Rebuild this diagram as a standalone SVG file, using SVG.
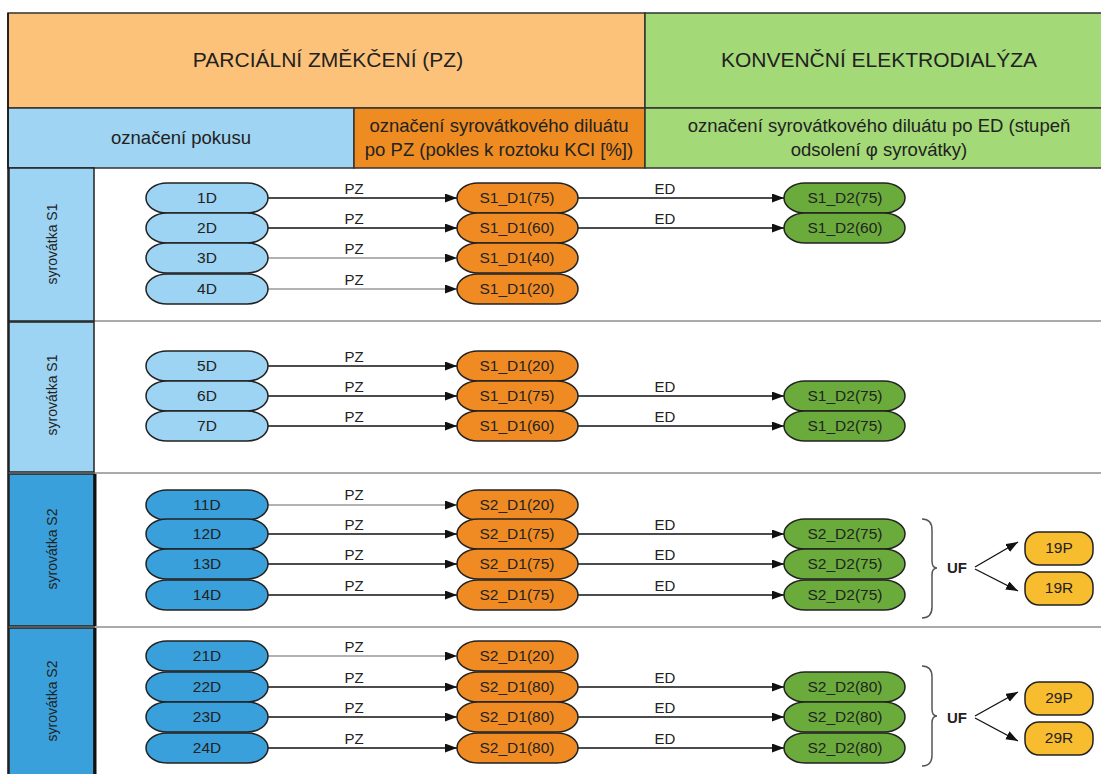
<svg xmlns="http://www.w3.org/2000/svg" width="1101" height="774" viewBox="0 0 1101 774">
<style>
text{font-family:"Liberation Sans",Arial,sans-serif;fill:#222}
.h1{font-size:21px;text-anchor:middle}
.h2{font-size:18.5px;text-anchor:middle}
.nt{font-size:15.5px;text-anchor:middle}
.lb{font-size:15px;text-anchor:middle}
.sl{font-size:14px;text-anchor:middle}
.uf{font-size:15px;font-weight:bold;text-anchor:middle}
.bl{fill:#9dd3f3;stroke:#222;stroke-width:1.5}
.bd{fill:#3aa0db;stroke:#222;stroke-width:1.5}
.or{fill:#ef8b22;stroke:#222;stroke-width:1.5}
.gr{fill:#6aab3b;stroke:#222;stroke-width:1.5}
.ye{fill:#f8bc2f;stroke:#222;stroke-width:1.5}
.ln{stroke:#111;stroke-width:1.3;fill:none}
.lg{stroke:#666;stroke-width:1.1;fill:none}
.br{stroke:#555;stroke-width:1.5;fill:none}
.sep{stroke:#aaa;stroke-width:2}
</style>
<defs>
<marker id="ah" markerUnits="userSpaceOnUse" markerWidth="13" markerHeight="10" refX="12" refY="4.5" orient="auto">
<path d="M0,0 L12,4.5 L0,9 z" fill="#111"/>
</marker>
</defs>
<rect width="1101" height="774" fill="#fff"/>

<g id="header">
<rect x="8" y="13" width="637" height="95" fill="#fdc27a" stroke="#333" stroke-width="1.5"/>
<rect x="645" y="13" width="460" height="95" fill="#a3d977" stroke="#333" stroke-width="1.5"/>
<rect x="8" y="108" width="346" height="60" fill="#9fd4f3" stroke="#333" stroke-width="1.5"/>
<rect x="354" y="108" width="291" height="60" fill="#ee8c22" stroke="#333" stroke-width="1.5"/>
<rect x="645" y="108" width="460" height="60" fill="#a3d977" stroke="#333" stroke-width="1.5"/>
<text class="h1" x="328" y="67">PARCIÁLNÍ ZMĚKČENÍ (PZ)</text>
<text class="h1" x="879" y="67">KONVENČNÍ ELEKTRODIALÝZA</text>
<text class="h2" x="181" y="144">označení pokusu</text>
<text class="h2" x="499" y="132">označení syrovátkového diluátu</text>
<text class="h2" x="499" y="156">po PZ (pokles k roztoku KCI [%])</text>
<text class="h2" x="879" y="132">označení syrovátkového diluátu po ED (stupeň</text>
<text class="h2" x="879" y="156">odsolení φ syrovátky)</text>
</g>

<g id="sections">
<line class="sep" x1="94" y1="321" x2="1101" y2="321"/>
<line class="sep" x1="94" y1="473" x2="1101" y2="473"/>
<line class="sep" x1="94" y1="627" x2="1101" y2="627"/>
<g id="sec1"><rect x="9" y="168" width="85" height="153" fill="#9dd3f3" stroke="#222" stroke-width="1.5"/>
<text class="sl" transform="translate(57,244) rotate(-90)">syrovátka S1</text></g>
<g id="sec2"><rect x="9" y="322" width="85" height="150" fill="#9dd3f3" stroke="#222" stroke-width="1.5"/>
<text class="sl" transform="translate(57,395) rotate(-90)">syrovátka S1</text></g>
<g id="sec3"><rect x="9" y="474" width="85" height="152" fill="#3aa0db" stroke="#222" stroke-width="1.5"/>
<line x1="95" y1="474" x2="95" y2="626" stroke="#111" stroke-width="3"/>
<text class="sl" transform="translate(57,549) rotate(-90)">syrovátka S2</text></g>
<g id="sec4"><rect x="9" y="628" width="85" height="150" fill="#3aa0db" stroke="#222" stroke-width="1.5"/>
<line x1="95" y1="628" x2="95" y2="774" stroke="#111" stroke-width="3"/>
<text class="sl" transform="translate(57,701) rotate(-90)">syrovátka S2</text></g>
<line x1="8" y1="13" x2="8" y2="774" stroke="#111" stroke-width="1.5"/>
</g>

<g id="connectors">
<line class="ln" x1="268" y1="198" x2="457" y2="198" marker-end="url(#ah)"/>
<line class="ln" x1="268" y1="228" x2="457" y2="228" marker-end="url(#ah)"/>
<line class="lg" x1="268" y1="258" x2="457" y2="258" marker-end="url(#ah)"/>
<line class="lg" x1="268" y1="289" x2="457" y2="289" marker-end="url(#ah)"/>
<line class="ln" x1="578" y1="198" x2="784" y2="198" marker-end="url(#ah)"/>
<line class="ln" x1="578" y1="228" x2="784" y2="228" marker-end="url(#ah)"/>

<line class="ln" x1="268" y1="366" x2="457" y2="366" marker-end="url(#ah)"/>
<line class="ln" x1="268" y1="396" x2="457" y2="396" marker-end="url(#ah)"/>
<line class="ln" x1="268" y1="426" x2="457" y2="426" marker-end="url(#ah)"/>
<line class="ln" x1="578" y1="396" x2="784" y2="396" marker-end="url(#ah)"/>
<line class="ln" x1="578" y1="426" x2="784" y2="426" marker-end="url(#ah)"/>

<line class="lg" x1="268" y1="505" x2="457" y2="505" marker-end="url(#ah)"/>
<line class="ln" x1="268" y1="534" x2="457" y2="534" marker-end="url(#ah)"/>
<line class="ln" x1="268" y1="564" x2="457" y2="564" marker-end="url(#ah)"/>
<line class="ln" x1="268" y1="595" x2="457" y2="595" marker-end="url(#ah)"/>
<line class="ln" x1="578" y1="534" x2="784" y2="534" marker-end="url(#ah)"/>
<line class="ln" x1="578" y1="564" x2="784" y2="564" marker-end="url(#ah)"/>
<line class="ln" x1="578" y1="595" x2="784" y2="595" marker-end="url(#ah)"/>

<line class="lg" x1="268" y1="656" x2="457" y2="656" marker-end="url(#ah)"/>
<line class="ln" x1="268" y1="687" x2="457" y2="687" marker-end="url(#ah)"/>
<line class="ln" x1="268" y1="717" x2="457" y2="717" marker-end="url(#ah)"/>
<line class="ln" x1="268" y1="748" x2="457" y2="748" marker-end="url(#ah)"/>
<line class="ln" x1="578" y1="687" x2="784" y2="687" marker-end="url(#ah)"/>
<line class="ln" x1="578" y1="717" x2="784" y2="717" marker-end="url(#ah)"/>
<line class="ln" x1="578" y1="748" x2="784" y2="748" marker-end="url(#ah)"/>

<line class="ln" x1="975" y1="567" x2="1018" y2="542" marker-end="url(#ah)"/>
<line class="ln" x1="975" y1="569" x2="1018" y2="591" marker-end="url(#ah)"/>
<line class="ln" x1="975" y1="716" x2="1018" y2="692" marker-end="url(#ah)"/>
<line class="ln" x1="975" y1="718" x2="1018" y2="741" marker-end="url(#ah)"/>

<g id="braces">
<path class="br" d="M922,519 Q932,519 932,530 L932,561 Q932,568 937,568 Q932,568 932,575 L932,607 Q932,618 922,618"/>
<path class="br" d="M922,666 Q932,666 932,677 L932,709 Q932,716 937,716 Q932,716 932,723 L932,755 Q932,766 922,766"/>
</g>

<g id="labels">
<text class="lb" x="354" y="194">PZ</text>
<text class="lb" x="354" y="224">PZ</text>
<text class="lb" x="354" y="254">PZ</text>
<text class="lb" x="354" y="285">PZ</text>
<text class="lb" x="665" y="194">ED</text>
<text class="lb" x="665" y="224">ED</text>
<text class="lb" x="354" y="362">PZ</text>
<text class="lb" x="354" y="392">PZ</text>
<text class="lb" x="354" y="422">PZ</text>
<text class="lb" x="665" y="392">ED</text>
<text class="lb" x="665" y="422">ED</text>
<text class="lb" x="354" y="500">PZ</text>
<text class="lb" x="354" y="530">PZ</text>
<text class="lb" x="354" y="560">PZ</text>
<text class="lb" x="354" y="591">PZ</text>
<text class="lb" x="665" y="530">ED</text>
<text class="lb" x="665" y="560">ED</text>
<text class="lb" x="665" y="591">ED</text>
<text class="lb" x="354" y="652">PZ</text>
<text class="lb" x="354" y="683">PZ</text>
<text class="lb" x="354" y="713">PZ</text>
<text class="lb" x="354" y="744">PZ</text>
<text class="lb" x="665" y="683">ED</text>
<text class="lb" x="665" y="713">ED</text>
<text class="lb" x="665" y="744">ED</text>
<text class="uf" x="957" y="573">UF</text>
<text class="uf" x="957" y="723">UF</text>
</g>
</g>

<g id="nodes">
<g id="n1D"><rect class="bl" x="146" y="183" width="122" height="30" rx="21" ry="15"/><text class="nt" x="207" y="203">1D</text></g>
<g id="n2D"><rect class="bl" x="146" y="213" width="122" height="30" rx="21" ry="15"/><text class="nt" x="207" y="233">2D</text></g>
<g id="n3D"><rect class="bl" x="146" y="243" width="122" height="30" rx="21" ry="15"/><text class="nt" x="207" y="263">3D</text></g>
<g id="n4D"><rect class="bl" x="146" y="274" width="122" height="30" rx="21" ry="15"/><text class="nt" x="207" y="294">4D</text></g>
<g id="o1"><rect class="or" x="457" y="183" width="121" height="30" rx="21" ry="15"/><text class="nt" x="517" y="203">S1_D1(75)</text></g>
<g id="o2"><rect class="or" x="457" y="213" width="121" height="30" rx="21" ry="15"/><text class="nt" x="517" y="233">S1_D1(60)</text></g>
<g id="o3"><rect class="or" x="457" y="243" width="121" height="30" rx="21" ry="15"/><text class="nt" x="517" y="263">S1_D1(40)</text></g>
<g id="o4"><rect class="or" x="457" y="274" width="121" height="30" rx="21" ry="15"/><text class="nt" x="517" y="294">S1_D1(20)</text></g>
<g id="g1"><rect class="gr" x="784" y="183" width="121" height="30" rx="21" ry="15"/><text class="nt" x="845" y="203">S1_D2(75)</text></g>
<g id="g2"><rect class="gr" x="784" y="213" width="121" height="30" rx="21" ry="15"/><text class="nt" x="845" y="233">S1_D2(60)</text></g>

<g id="n5D"><rect class="bl" x="146" y="351" width="122" height="30" rx="21" ry="15"/><text class="nt" x="207" y="371">5D</text></g>
<g id="n6D"><rect class="bl" x="146" y="381" width="122" height="30" rx="21" ry="15"/><text class="nt" x="207" y="401">6D</text></g>
<g id="n7D"><rect class="bl" x="146" y="411" width="122" height="30" rx="21" ry="15"/><text class="nt" x="207" y="431">7D</text></g>
<g id="o5"><rect class="or" x="457" y="351" width="121" height="30" rx="21" ry="15"/><text class="nt" x="517" y="371">S1_D1(20)</text></g>
<g id="o6"><rect class="or" x="457" y="381" width="121" height="30" rx="21" ry="15"/><text class="nt" x="517" y="401">S1_D1(75)</text></g>
<g id="o7"><rect class="or" x="457" y="411" width="121" height="30" rx="21" ry="15"/><text class="nt" x="517" y="431">S1_D1(60)</text></g>
<g id="g6"><rect class="gr" x="784" y="381" width="121" height="30" rx="21" ry="15"/><text class="nt" x="845" y="401">S1_D2(75)</text></g>
<g id="g7"><rect class="gr" x="784" y="411" width="121" height="30" rx="21" ry="15"/><text class="nt" x="845" y="431">S1_D2(75)</text></g>

<g id="n11D"><rect class="bd" x="146" y="490" width="122" height="30" rx="21" ry="15"/><text class="nt" x="207" y="510">11D</text></g>
<g id="n12D"><rect class="bd" x="146" y="519" width="122" height="30" rx="21" ry="15"/><text class="nt" x="207" y="539">12D</text></g>
<g id="n13D"><rect class="bd" x="146" y="549" width="122" height="30" rx="21" ry="15"/><text class="nt" x="207" y="569">13D</text></g>
<g id="n14D"><rect class="bd" x="146" y="580" width="122" height="30" rx="21" ry="15"/><text class="nt" x="207" y="600">14D</text></g>
<g id="o11"><rect class="or" x="457" y="490" width="121" height="30" rx="21" ry="15"/><text class="nt" x="517" y="510">S2_D1(20)</text></g>
<g id="o12"><rect class="or" x="457" y="519" width="121" height="30" rx="21" ry="15"/><text class="nt" x="517" y="539">S2_D1(75)</text></g>
<g id="o13"><rect class="or" x="457" y="549" width="121" height="30" rx="21" ry="15"/><text class="nt" x="517" y="569">S2_D1(75)</text></g>
<g id="o14"><rect class="or" x="457" y="580" width="121" height="30" rx="21" ry="15"/><text class="nt" x="517" y="600">S2_D1(75)</text></g>
<g id="g12"><rect class="gr" x="784" y="519" width="121" height="30" rx="21" ry="15"/><text class="nt" x="845" y="539">S2_D2(75)</text></g>
<g id="g13"><rect class="gr" x="784" y="549" width="121" height="30" rx="21" ry="15"/><text class="nt" x="845" y="569">S2_D2(75)</text></g>
<g id="g14"><rect class="gr" x="784" y="580" width="121" height="30" rx="21" ry="15"/><text class="nt" x="845" y="600">S2_D2(75)</text></g>
<g id="n19P"><rect class="ye" x="1025" y="532" width="68" height="33" rx="14"/><text class="nt" x="1059" y="553">19P</text></g>
<g id="n19R"><rect class="ye" x="1025" y="572" width="68" height="33" rx="14"/><text class="nt" x="1059" y="593">19R</text></g>

<g id="n21D"><rect class="bd" x="146" y="641" width="122" height="30" rx="21" ry="15"/><text class="nt" x="207" y="661">21D</text></g>
<g id="n22D"><rect class="bd" x="146" y="672" width="122" height="30" rx="21" ry="15"/><text class="nt" x="207" y="692">22D</text></g>
<g id="n23D"><rect class="bd" x="146" y="702" width="122" height="30" rx="21" ry="15"/><text class="nt" x="207" y="722">23D</text></g>
<g id="n24D"><rect class="bd" x="146" y="733" width="122" height="30" rx="21" ry="15"/><text class="nt" x="207" y="753">24D</text></g>
<g id="o21"><rect class="or" x="457" y="641" width="121" height="30" rx="21" ry="15"/><text class="nt" x="517" y="661">S2_D1(20)</text></g>
<g id="o22"><rect class="or" x="457" y="672" width="121" height="30" rx="21" ry="15"/><text class="nt" x="517" y="692">S2_D1(80)</text></g>
<g id="o23"><rect class="or" x="457" y="702" width="121" height="30" rx="21" ry="15"/><text class="nt" x="517" y="722">S2_D1(80)</text></g>
<g id="o24"><rect class="or" x="457" y="733" width="121" height="30" rx="21" ry="15"/><text class="nt" x="517" y="753">S2_D1(80)</text></g>
<g id="g22"><rect class="gr" x="784" y="672" width="121" height="30" rx="21" ry="15"/><text class="nt" x="845" y="692">S2_D2(80)</text></g>
<g id="g23"><rect class="gr" x="784" y="702" width="121" height="30" rx="21" ry="15"/><text class="nt" x="845" y="722">S2_D2(80)</text></g>
<g id="g24"><rect class="gr" x="784" y="733" width="121" height="30" rx="21" ry="15"/><text class="nt" x="845" y="753">S2_D2(80)</text></g>
<g id="n29P"><rect class="ye" x="1025" y="682" width="68" height="33" rx="14"/><text class="nt" x="1059" y="703">29P</text></g>
<g id="n29R"><rect class="ye" x="1025" y="722" width="68" height="33" rx="14"/><text class="nt" x="1059" y="743">29R</text></g>
</g>
</svg>
